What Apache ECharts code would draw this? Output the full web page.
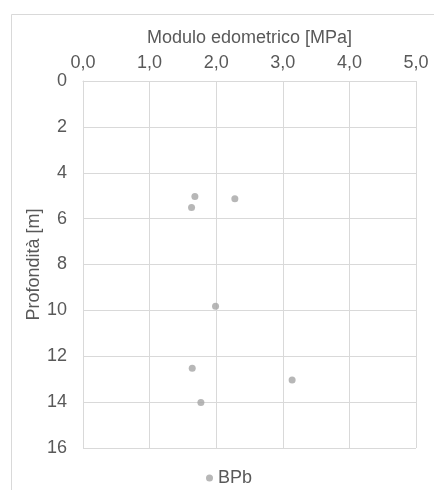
<!DOCTYPE html>
<html>
<head>
<meta charset="utf-8">
<script src="https://cdn.jsdelivr.net/npm/echarts@6/dist/echarts.min.js"></script>
<style>html,body{margin:0;padding:0;background:#fff;}#c{width:434px;height:490px;}</style>
</head>
<body>
<div id="c"></div>
<script>
const seriesName = 'BPb';
const moduloValues = [1.68, 1.63, 2.28, 1.99, 1.64, 3.14, 1.77];
const depthValues = [5.03, 5.52, 5.13, 9.82, 12.52, 13.03, 14.02];
const xTitle = 'Modulo edometrico [MPa]';
const yTitle = 'Profondità [m]';

const chart = echarts.init(document.getElementById('c'), null, {renderer: 'canvas'});
const font = 'Liberation Sans, Arial, sans-serif';
const txt = '#595959';
const grid = '#d9d9d9';
chart.setOption({
  animation: false,
  backgroundColor: '#fff',
  graphic: [{
    type: 'rect', left: 9, top: 12, silent: true,
    shape: {width: 460, height: 500},
    style: {fill: 'none', stroke: '#d9d9d9', lineWidth: 1}
  }],
  grid: {left: 83, top: 81, width: 333, height: 367, containLabel: false},
  xAxis: {
    type: 'value', position: 'top', min: 0, max: 5, interval: 1,
    name: xTitle, nameLocation: 'middle', nameGap: 34, nameMoveOverlap: false,
    nameTextStyle: {color: txt, fontSize: 18, fontFamily: font},
    axisLine: {show: true, lineStyle: {color: grid}},
    axisTick: {show: false},
    axisLabel: {color: txt, fontSize: 18, fontFamily: font, margin: 9,
      formatter: v => v.toFixed(1).replace('.', ',')},
    splitLine: {show: true, lineStyle: {color: grid, width: 1}}
  },
  yAxis: {
    type: 'value', inverse: true, min: 0, max: 16, interval: 2,
    name: yTitle, nameLocation: 'middle', nameGap: 40, nameMoveOverlap: false,
    nameTextStyle: {color: txt, fontSize: 18, fontFamily: font},
    axisLine: {show: true, lineStyle: {color: grid}},
    axisTick: {show: false},
    axisLabel: {color: txt, fontSize: 18, fontFamily: font, margin: 16},
    splitLine: {show: true, lineStyle: {color: grid, width: 1}}
  },
  legend: {
    left: 201, top: 464, icon: 'circle', itemWidth: 7, itemHeight: 7, itemGap: 4,
    textStyle: {color: txt, fontSize: 18, fontFamily: font},
    data: [seriesName]
  },
  series: [{
    name: seriesName, type: 'scatter', symbol: 'circle', symbolSize: 7,
    itemStyle: {color: '#a5a5a5'},
    data: moduloValues.map((m, i) => [m, depthValues[i]])
  }]
});
</script>
</body>
</html>
